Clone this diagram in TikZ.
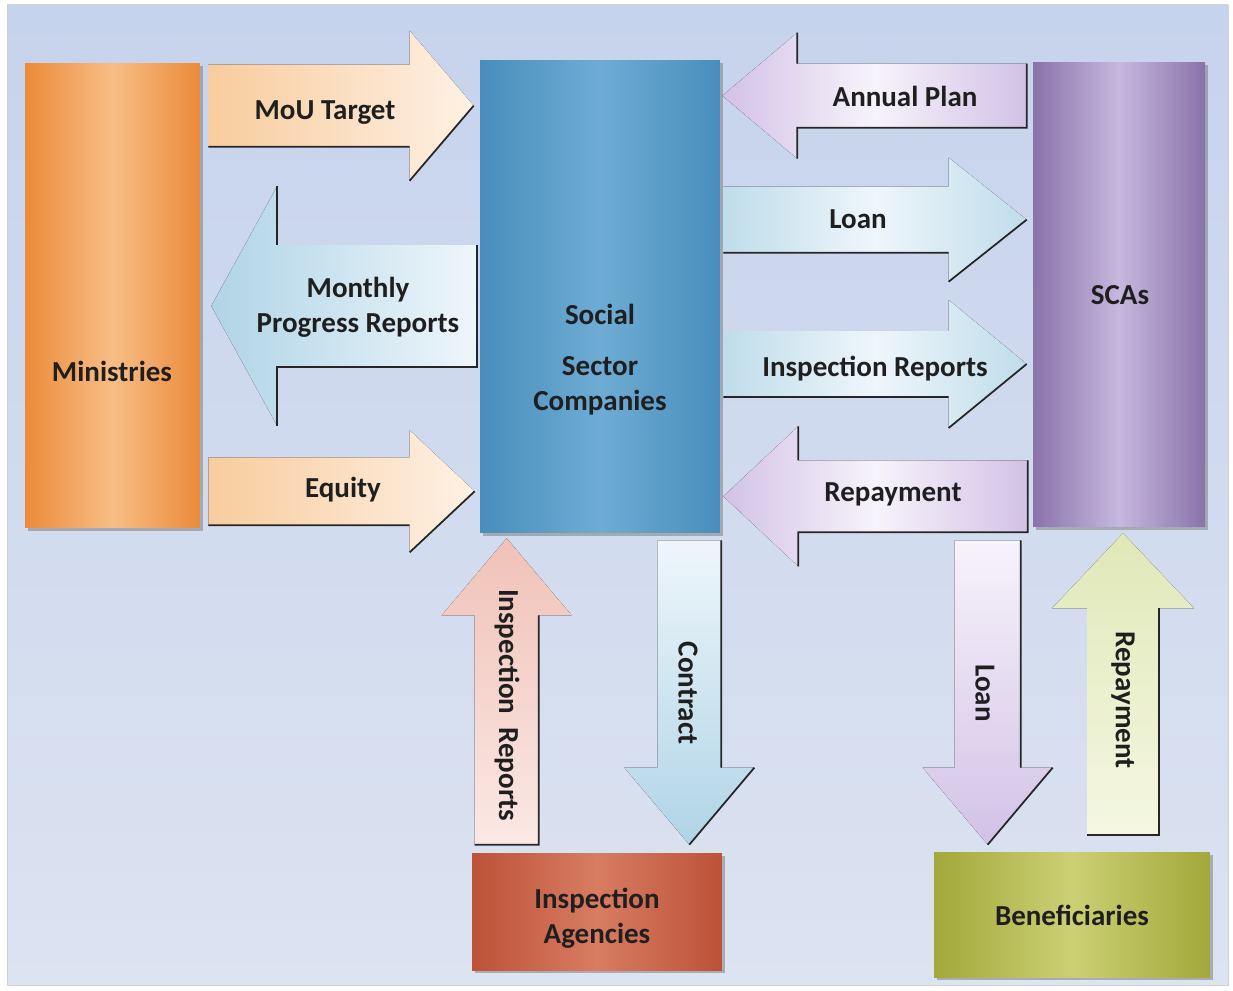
\documentclass[tikz,border=0pt]{standalone}
\usepackage{fontspec}
\setmainfont{Carlito}
\usetikzlibrary{calc,shadows}

\definecolor{minOrange}{RGB}{236,138,58}
\definecolor{minLight}{RGB}{247,190,134}
\definecolor{sscBlue}{RGB}{72,142,188}
\definecolor{sscLight}{RGB}{110,172,212}
\definecolor{scaPurple}{RGB}{138,114,170}
\definecolor{scaLight}{RGB}{198,184,222}
\definecolor{iaRed}{RGB}{188,82,56}
\definecolor{iaLight}{RGB}{216,124,98}
\definecolor{benOlive}{RGB}{162,168,58}
\definecolor{benLight}{RGB}{204,208,116}
\definecolor{bgTop}{RGB}{198,211,236}
\definecolor{bgBot}{RGB}{220,227,241}
\definecolor{peach}{RGB}{248,204,158}
\definecolor{peachLight}{RGB}{254,241,228}
\definecolor{skyArr}{RGB}{176,212,230}
\definecolor{skyLight}{RGB}{238,246,251}
\definecolor{lilac}{RGB}{210,194,230}
\definecolor{lilacLight}{RGB}{247,243,251}
\definecolor{rose}{RGB}{240,194,184}
\definecolor{roseLight}{RGB}{251,232,228}
\definecolor{lime}{RGB}{224,232,184}
\definecolor{limeLight}{RGB}{245,247,226}

\begin{document}
\begin{tikzpicture}[x=0.02cm,y=-0.02cm,
    font=\fontsize{16.5}{20}\selectfont\bfseries,
    box/.style={inner sep=0pt,
      drop shadow={shadow xshift=1.6pt,shadow yshift=-1.6pt,opacity=.55}},
    edge/.style={draw=black!85,line width=1pt},
    lbl/.style={align=center,text=black!88}]
% block arrows: tail, tip, half shaft, half head, head length (signed)
\def\harrow#1#2#3#4#5{($(#1)+(0,-#3)$) -- ($(#2)+(#5,-#3)$) -- ($(#2)+(#5,-#4)$) -- (#2)
  -- ($(#2)+(#5,#4)$) -- ($(#2)+(#5,#3)$) -- ($(#1)+(0,#3)$) -- cycle}
\def\varrow#1#2#3#4#5{($(#1)+(-#3,0)$) -- ($(#2)+(-#3,#5)$) -- ($(#2)+(-#4,#5)$) -- (#2)
  -- ($(#2)+(#4,#5)$) -- ($(#2)+(#3,#5)$) -- ($(#1)+(#3,0)$) -- cycle}
% the dark shadow edges
\def\rightedge#1#2#3#4#5{($(#1)+(0,#3)$) -- ($(#2)+(#5,#3)$) ($(#2)+(#5,#4)$) -- (#2)}
\def\leftedge#1#2#3#4#5{($(#2)+(#5,-#4)$) -- ($(#2)+(#5,-#3)$)
  ($(#2)+(#5,#4)$) -- ($(#2)+(#5,#3)$) -- ($(#1)+(0,#3)$) -- ($(#1)+(0,-#3)$)}
\def\downedge#1#2#3#4#5{($(#1)+(#3,0)$) -- ($(#2)+(#3,#5)$) ($(#2)+(#4,#5)$) -- (#2)}
\def\upedge#1#2#3#4#5{($(#1)+(-#3,0)$) -- ($(#1)+(#3,0)$) -- ($(#2)+(#3,#5)$)}

% background
\fill[white] (0,0) rectangle (1233,990);
\shade[top color=bgTop,bottom color=bgBot,draw=gray!35] (7,5) rectangle (1228,985);

% boxes
\node[box,left color=minOrange,right color=minOrange,middle color=minLight,
  minimum width=3.5cm,minimum height=9.3cm] (min) at (112.5,295.5) {};
\node[box,left color=sscBlue,right color=sscBlue,middle color=sscLight,
  minimum width=4.8cm,minimum height=9.46cm] (ssc) at (600,296.5) {};
\node[box,left color=scaPurple,right color=scaPurple,middle color=scaLight,
  minimum width=3.44cm,minimum height=9.3cm] (sca) at (1119,294.5) {};
\node[box,left color=iaRed,right color=iaRed,middle color=iaLight,
  minimum width=5cm,minimum height=2.34cm] (ia) at (597,911.5) {};
\node[box,left color=benOlive,right color=benOlive,middle color=benLight,
  minimum width=5.52cm,minimum height=2.5cm] (ben) at (1072,914.5) {};

% arrow ends
\coordinate (mou-a) at ($(min.north east)+(8,43)$);
\coordinate (mou-b) at ($(ssc.north west)+(-6,46)$);
\coordinate (mpr-a) at ($(ssc.west)+(-3,9.5)$);
\coordinate (mpr-b) at ($(min.east)+(11,10.5)$);
\coordinate (eq-a) at ($(min.south east)+(8,-37)$);
\coordinate (eq-b) at ($(ssc.south west)+(-5,-42)$);
\coordinate (ap-a) at ($(sca.north west)+(-6,34)$);
\coordinate (ap-b) at ($(ssc.north east)+(2,36)$);
\coordinate (ln-a) at ($(ssc.north east)+(3,160)$);
\coordinate (ln-b) at ($(sca.north west)+(-6,158)$);
\coordinate (ir-a) at ($(ssc.east)+(3,67.5)$);
\coordinate (ir-b) at ($(sca.west)+(-6,69.5)$);
\coordinate (rp-a) at ($(sca.south west)+(-5,-31)$);
\coordinate (rp-b) at ($(ssc.south east)+(3,-37)$);
\coordinate (iu-a) at ($(ia.north west)+(35,-8)$);
\coordinate (iu-b) at ($(ssc.south west)+(27,5)$);
\coordinate (ct-a) at ($(ssc.south east)+(-31,7)$);
\coordinate (ct-b) at ($(ia.north east)+(-33,-8)$);
\coordinate (ld-a) at ($(sca.south west)+(-45,13)$);
\coordinate (ld-b) at ($(ben.north west)+(54,-7)$);
\coordinate (ru-a) at ($(ben.north)+(51,-17)$);
\coordinate (ru-b) at ($(sca.south)+(4,6)$);

% left column arrows
\fill[left color=peach,right color=peachLight] \harrow{mou-a}{mou-b}{41}{75}{-64};
\draw[edge] \rightedge{mou-a}{mou-b}{41}{75}{-64};
\fill[left color=skyArr,right color=skyLight] \harrow{mpr-a}{mpr-b}{61}{120}{66};
\draw[edge] \leftedge{mpr-a}{mpr-b}{61}{120}{66};
\fill[left color=peach,right color=peachLight] \harrow{eq-a}{eq-b}{34}{61}{-65};
\draw[edge] \rightedge{eq-a}{eq-b}{34}{61}{-65};

% right column arrows
\fill[left color=lilac,right color=lilac,middle color=lilacLight] \harrow{ap-a}{ap-b}{32}{63}{75};
\draw[edge] \leftedge{ap-a}{ap-b}{32}{63}{75};
\fill[left color=skyArr!80,right color=skyArr!80,middle color=skyLight] \harrow{ln-a}{ln-b}{33}{62}{-78};
\draw[edge] \rightedge{ln-a}{ln-b}{33}{62}{-78};
\fill[left color=skyArr!80,right color=skyArr!80,middle color=skyLight] \harrow{ir-a}{ir-b}{33}{64}{-78};
\draw[edge] \rightedge{ir-a}{ir-b}{33}{64}{-78};
\fill[left color=lilac,right color=lilac,middle color=lilacLight] \harrow{rp-a}{rp-b}{36}{70}{75};
\draw[edge] \leftedge{rp-a}{rp-b}{36}{70}{75};

% vertical arrows
\fill[top color=rose,bottom color=roseLight] \varrow{iu-a}{iu-b}{32}{65}{77};
\draw[edge] \upedge{iu-a}{iu-b}{32}{65}{77};
\fill[top color=skyLight,bottom color=skyArr] \varrow{ct-a}{ct-b}{32}{65}{-77};
\draw[edge] \downedge{ct-a}{ct-b}{32}{65}{-77};
\fill[top color=lilacLight,bottom color=lilac] \varrow{ld-a}{ld-b}{33}{65}{-77};
\draw[edge] \downedge{ld-a}{ld-b}{33}{65}{-77};
\fill[top color=lime,bottom color=limeLight] \varrow{ru-a}{ru-b}{36}{71}{75};
\draw[edge] \upedge{ru-a}{ru-b}{36}{71}{75};

% texts
\node[lbl] (min-t) at (112,371) {Ministries};
\node[lbl] (ssc-t) at (600,360) {Social\\[9pt]Sector\\Companies};
\node[lbl] (sca-t) at (1120,295) {SCAs};
\node[lbl] (ia-t) at (597,918) {Inspection\\Agencies};
\node[lbl] (ben-t) at (1072,915) {Beneficiaries};
\node[lbl] (mou-t) at (325,113) {MoU Target};
\node[lbl] (mpr-t) at (358,307) {Monthly\\Progress Reports};
\node[lbl] (eq-t) at (343,490) {Equity};
\node[lbl] (ap-t) at (905,96) {Annual Plan};
\node[lbl] (ln-t) at (858,219) {Loan};
\node[lbl] (ir-t) at (875,369) {Inspection Reports};
\node[lbl] (rp-t) at (893,494) {Repayment};
\node[lbl,rotate=-90] (iu-t) at (507,705) {Inspection\ \ Reports};
\node[lbl,rotate=-90] (ct-t) at (688,693) {Contract};
\node[lbl,rotate=-90] (ld-t) at (985,693) {Loan};
\node[lbl,rotate=-90] (ru-t) at (1123,700) {Repayment};
\end{tikzpicture}
\end{document}
